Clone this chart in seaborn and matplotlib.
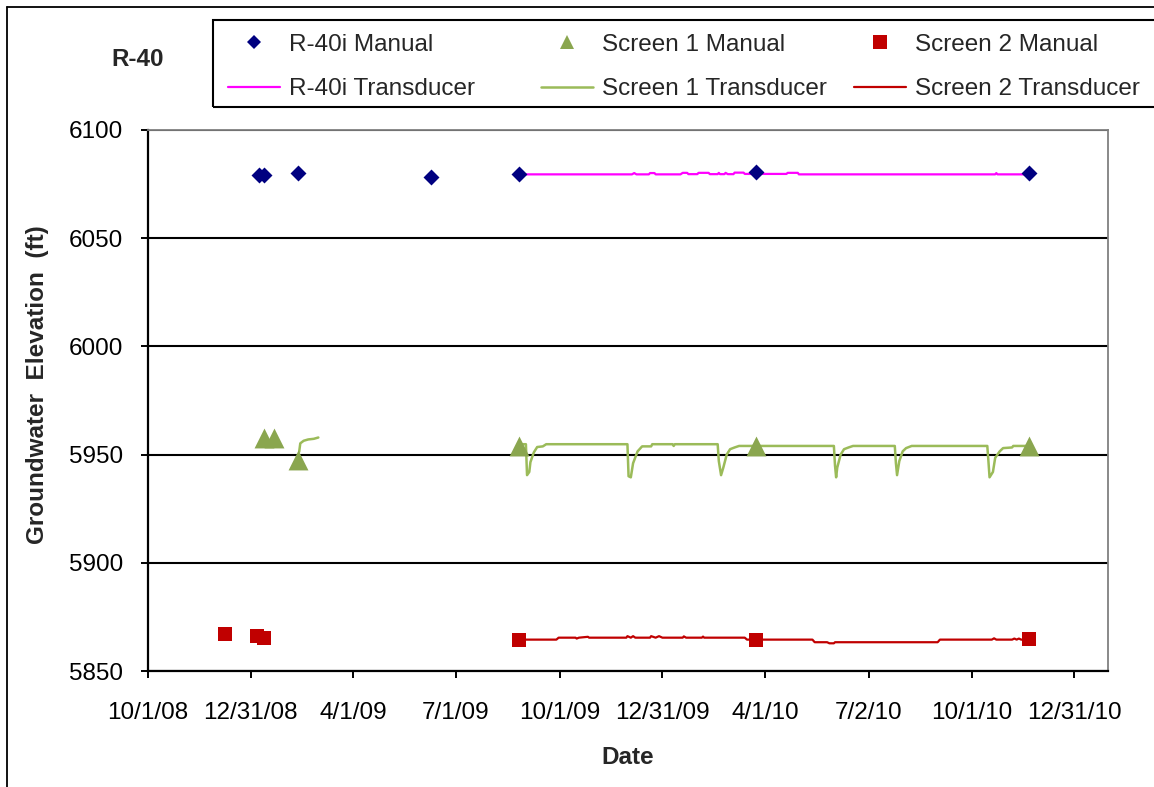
import pandas as pd
import matplotlib
matplotlib.use('Agg')
import matplotlib.pyplot as plt
import seaborn as sns
from matplotlib.lines import Line2D
from matplotlib.patches import Rectangle

# ---------------------------------------------------------------------------
# data read off the hydrograph
# ---------------------------------------------------------------------------
r40i_man_dates = ['2009-01-07', '2009-01-12', '2009-02-11', '2009-06-09',
                  '2009-08-26', '2010-03-24', '2010-11-21']
r40i_man_elev = [6079.2, 6079.2, 6080.0, 6078.1, 6079.6, 6080.4, 6080.2]

scr1_man_dates = ['2009-01-12', '2009-01-21', '2009-02-11', '2009-08-26',
                  '2010-03-24', '2010-11-21']
scr1_man_elev = [5957.8, 5957.8, 5947.4, 5954.1, 5954.1, 5954.1]

scr2_man_dates = ['2008-12-08', '2009-01-06', '2009-01-12', '2009-08-26',
                  '2010-03-24', '2010-11-21']
scr2_man_elev = [5867.1, 5866.2, 5865.2, 5864.4, 5864.4, 5864.6]

r40i_td_dates = ['2009-08-26', '2009-12-04', '2009-12-06', '2009-12-08', '2009-12-19',
                 '2009-12-20', '2009-12-24', '2009-12-25', '2010-01-16', '2010-01-18',
                 '2010-01-22', '2010-01-23', '2010-01-31', '2010-02-01', '2010-02-10',
                 '2010-02-11', '2010-02-18', '2010-02-19', '2010-02-20', '2010-02-24',
                 '2010-02-25', '2010-02-27', '2010-03-04', '2010-03-05', '2010-03-13',
                 '2010-03-14', '2010-04-20', '2010-04-21', '2010-04-30', '2010-05-01',
                 '2010-10-22', '2010-10-23', '2010-10-24', '2010-11-19']
r40i_td_elev = [6079.5, 6079.5, 6080.1, 6079.5, 6079.5, 6080.1, 6080.1, 6079.5,
                6079.5, 6080.2, 6080.2, 6079.6, 6079.6, 6080.2, 6080.2, 6079.6,
                6079.6, 6080.2, 6079.6, 6079.6, 6080.2, 6079.6, 6079.6, 6080.3,
                6080.3, 6079.7, 6079.7, 6080.2, 6080.2, 6079.5, 6079.5, 6080.1,
                6079.5, 6079.5]

# screen 1 transducer has a gap -> two pieces
scr1_td_a_dates = ['2009-02-12', '2009-02-13', '2009-02-16', '2009-02-20',
                   '2009-02-25', '2009-03-01']
scr1_td_a_elev = [5951.3, 5955.2, 5956.4, 5957.0, 5957.3, 5957.9]

scr1_td_b_dates = ['2009-08-28', '2009-09-01', '2009-09-02', '2009-09-04', '2009-09-05',
                   '2009-09-08', '2009-09-11', '2009-09-16', '2009-09-19', '2009-11-30',
                   '2009-12-01', '2009-12-03', '2009-12-05', '2009-12-09', '2009-12-13',
                   '2009-12-21', '2009-12-22', '2010-01-09', '2010-01-10', '2010-01-11',
                   '2010-02-18', '2010-02-19', '2010-02-21', '2010-02-23', '2010-02-26',
                   '2010-03-01', '2010-03-05', '2010-03-09', '2010-06-01', '2010-06-02',
                   '2010-06-03', '2010-06-04', '2010-06-07', '2010-06-10', '2010-06-14',
                   '2010-06-18', '2010-07-25', '2010-07-26', '2010-07-27', '2010-07-29',
                   '2010-08-01', '2010-08-04', '2010-08-09', '2010-10-15', '2010-10-16',
                   '2010-10-17', '2010-10-20', '2010-10-22', '2010-10-26', '2010-10-29',
                   '2010-11-06', '2010-11-07', '2010-11-19']
scr1_td_b_elev = [5954.8, 5954.8, 5940.5, 5942.0, 5946.5, 5951.0, 5953.5, 5953.8, 5954.8,
                  5954.8, 5940.0, 5939.5, 5946.0, 5951.5, 5953.8, 5953.8, 5954.8, 5954.8,
                  5954.0, 5954.8, 5954.8, 5947.0, 5940.5, 5944.0, 5950.0, 5952.5, 5953.3,
                  5954.0, 5954.0, 5945.0, 5939.5, 5944.0, 5950.0, 5952.5, 5953.3, 5954.0,
                  5954.0, 5946.0, 5940.5, 5947.0, 5951.5, 5953.0, 5954.0, 5954.0, 5947.0,
                  5939.5, 5942.0, 5948.5, 5951.5, 5953.0, 5953.3, 5954.0, 5954.0]

scr2_td_dates = ['2009-08-26', '2009-09-28', '2009-09-30', '2009-10-15', '2009-10-16',
                 '2009-10-18', '2009-10-26', '2009-10-27', '2009-11-29', '2009-11-30',
                 '2009-12-03', '2009-12-05', '2009-12-07', '2009-12-20', '2009-12-21',
                 '2009-12-25', '2009-12-28', '2009-12-31', '2010-01-18', '2010-01-19',
                 '2010-01-21', '2010-02-04', '2010-02-05', '2010-02-06', '2010-03-14',
                 '2010-03-16', '2010-05-13', '2010-05-15', '2010-05-26', '2010-05-28',
                 '2010-06-01', '2010-06-02', '2010-09-01', '2010-09-03', '2010-10-19',
                 '2010-10-21', '2010-10-23', '2010-11-06', '2010-11-08', '2010-11-10',
                 '2010-11-12', '2010-11-14', '2010-11-19']
scr2_td_elev = [5864.5, 5864.5, 5865.4, 5865.4, 5865.0, 5865.4, 5865.8, 5865.4, 5865.4,
                5866.1, 5865.4, 5866.1, 5865.4, 5865.4, 5866.1, 5865.4, 5866.1, 5865.4,
                5865.4, 5866.0, 5865.4, 5865.4, 5865.9, 5865.4, 5865.4, 5864.5, 5864.5,
                5863.3, 5863.3, 5862.8, 5862.8, 5863.3, 5863.3, 5864.5, 5864.5, 5865.1,
                5864.5, 5864.5, 5865.0, 5864.5, 5865.0, 5864.5, 5864.5]

tick_dates = ['2008-10-01', '2008-12-31', '2009-04-01', '2009-07-01', '2009-10-01',
              '2009-12-31', '2010-04-01', '2010-07-02', '2010-10-01', '2010-12-31']
tick_labels = ['10/1/08', '12/31/08', '4/1/09', '7/1/09', '10/1/09',
               '12/31/09', '4/1/10', '7/2/10', '10/1/10', '12/31/10']
y_ticks = [5850, 5900, 5950, 6000, 6050, 6100]

# colours
NAVY = '#000080'
MAGENTA = '#ff00ff'
OLIVE = '#8aa64f'
OLIVE_LINE = '#9bbb59'
RED = '#c00000'

sns.set_style('white')
plt.rcParams['font.family'] = ['Liberation Sans', 'DejaVu Sans']
FS = 17.5

W, H = 1154, 787
fig = plt.figure(figsize=(W / 100, H / 100), dpi=100)
ax = fig.add_axes([148 / W, 1 - 671 / H, 960 / W, 541 / H])

# transducer records
df_r40 = pd.DataFrame({'date': pd.to_datetime(r40i_td_dates), 'elev': r40i_td_elev})
df_s1 = pd.concat([
    pd.DataFrame({'date': pd.to_datetime(scr1_td_a_dates), 'elev': scr1_td_a_elev, 'seg': 0}),
    pd.DataFrame({'date': pd.to_datetime(scr1_td_b_dates), 'elev': scr1_td_b_elev, 'seg': 1}),
])
df_s2 = pd.DataFrame({'date': pd.to_datetime(scr2_td_dates), 'elev': scr2_td_elev})

sns.lineplot(data=df_r40, x='date', y='elev', color=MAGENTA, lw=1.6,
             estimator=None, legend=False, ax=ax, zorder=3)
sns.lineplot(data=df_s1, x='date', y='elev', units='seg', color=OLIVE_LINE, lw=1.8,
             estimator=None, legend=False, ax=ax, zorder=3)
sns.lineplot(data=df_s2, x='date', y='elev', color=RED, lw=1.6,
             estimator=None, legend=False, ax=ax, zorder=3)

# manual measurements
sns.scatterplot(x=pd.to_datetime(r40i_man_dates), y=r40i_man_elev, marker='D', s=66,
                color=NAVY, linewidth=0, legend=False, ax=ax, zorder=4)
sns.scatterplot(x=pd.to_datetime(scr1_man_dates), y=scr1_man_elev, marker='^', s=205,
                color=OLIVE, linewidth=0, legend=False, ax=ax, zorder=4)
sns.scatterplot(x=pd.to_datetime(scr2_man_dates), y=scr2_man_elev, marker='s', s=115,
                color=RED, linewidth=0, legend=False, ax=ax, zorder=4)

# axes
ax.set_xlim(pd.Timestamp('2008-10-01'), pd.Timestamp('2011-01-30'))
ax.set_ylim(5850, 6100)
ax.set_xticks(pd.to_datetime(tick_dates))
ax.set_xticklabels(tick_labels)
ax.set_yticks(y_ticks)
ax.tick_params(axis='both', direction='out', length=5, width=1.4, colors='black',
               labelsize=FS, bottom=True, left=True)
ax.tick_params(axis='x', pad=17)
ax.tick_params(axis='y', pad=13)

ax.set_axisbelow(True)
ax.yaxis.grid(True, color='black', lw=1.5)
ax.xaxis.grid(False)
for t in ax.yaxis.get_major_ticks():
    if t.get_loc() in (6100, 5850):
        t.gridline.set_visible(False)

for side in ['left', 'bottom']:
    ax.spines[side].set_color('black')
    ax.spines[side].set_linewidth(1.6)
for side in ['top', 'right']:
    ax.spines[side].set_color('#808080')
    ax.spines[side].set_linewidth(1.3)

ax.set_xlabel('Date', fontsize=FS, fontweight='bold', va='center')
ax.xaxis.set_label_coords(0.5, (671 - 757) / 541)
ax.set_ylabel('Groundwater  Elevation  (ft)', fontsize=FS, fontweight='bold', va='center')
ax.yaxis.set_label_coords((38 - 148) / 960, (671 - 385) / 541)

# well name
fig.text(138 / W, 1 - 59 / H, 'R-40', fontsize=FS, fontweight='bold',
         ha='center', va='center')

# legend: three columns, each manual + transducer
leg_kw = dict(loc='upper left', frameon=False, fontsize=FS, borderpad=0,
              borderaxespad=0, handlelength=2.15, handletextpad=0.34,
              labelspacing=0.93)
cols = [
    (228, Line2D([], [], ls='none', marker='D', ms=7.4, color=NAVY, mew=0),
     Line2D([], [], color=MAGENTA, lw=1.6), 'R-40i Manual', 'R-40i Transducer'),
    (541, Line2D([], [], ls='none', marker='^', ms=10, color=OLIVE, mew=0),
     Line2D([], [], color=OLIVE_LINE, lw=1.8), 'Screen 1 Manual', 'Screen 1 Transducer'),
    (854, Line2D([], [], ls='none', marker='s', ms=9.5, color=RED, mew=0),
     Line2D([], [], color=RED, lw=1.6), 'Screen 2 Manual', 'Screen 2 Transducer'),
]
for x0, h_man, h_td, l_man, l_td in cols:
    fig.legend([h_man, h_td], [l_man, l_td],
               bbox_to_anchor=(x0 / W, 1 - 33.5 / H), **leg_kw)

fig.add_artist(Rectangle((213 / W, 1 - 107 / H), (1170 - 213) / W, 87 / H,
                         transform=fig.transFigure, fill=False, ec='black',
                         lw=1.5, clip_on=False))

# chart area border (cropped on the right and bottom)
fig.add_artist(Line2D([7 / W, 1.0], [1 - 7 / H, 1 - 7 / H],
                      transform=fig.transFigure, color='black', lw=1.3))
fig.add_artist(Line2D([7 / W, 7 / W], [0.0, 1 - 7 / H],
                      transform=fig.transFigure, color='black', lw=1.3))

fig.savefig('out.png', dpi=100)
